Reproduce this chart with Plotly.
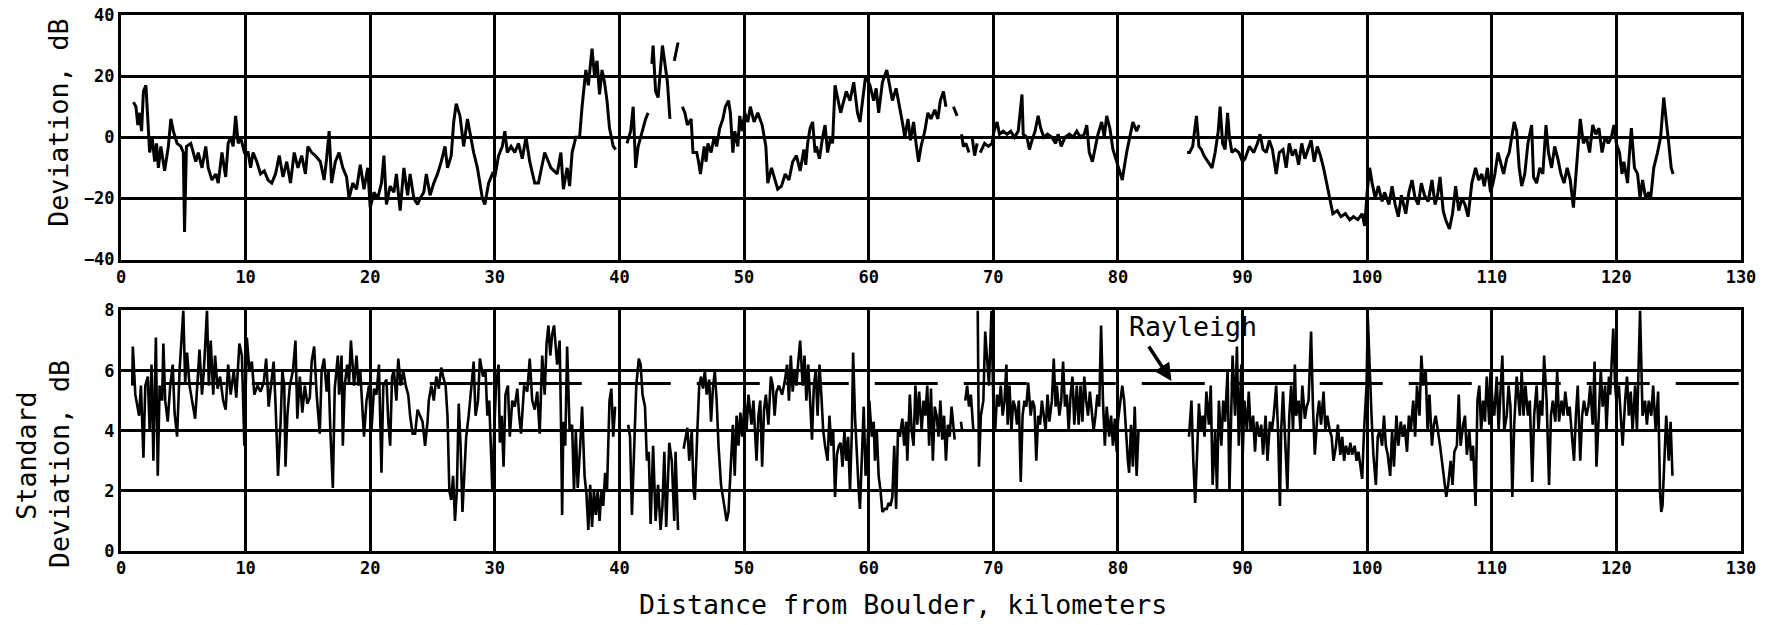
import plotly.graph_objects as go

# ---------------- data ----------------
dist_top = [1.0,1.2,1.35,1.5,1.65,1.8,2.0,2.1,2.3,2.5,2.7,2.85,3.0,3.2,3.5,3.8,4.0,4.2,4.5,4.8,5.0,5.1,5.25,5.6,6.0,6.2,6.5,6.8,7.0,7.3,7.6,7.8,8.1,8.4,8.6,8.8,9.0,9.2,9.4,9.6,9.9,
10.2,10.4,10.6,10.9,11.2,11.5,11.8,12.1,12.4,12.7,13.0,13.3,13.6,13.9,14.2,14.5,14.8,15.0,15.3,15.6,16.0,16.3,16.5,16.7,16.9,17.2,17.5,17.8,18.1,18.3,18.6,18.9,19.2,19.5,19.8,
20.0,20.3,20.6,20.9,21.1,21.3,21.6,21.9,22.1,22.4,22.7,23.0,23.2,23.5,23.8,24.0,24.3,24.5,24.8,25.1,25.4,25.7,26.0,26.2,26.5,26.7,26.9,27.2,27.5,27.8,28.0,28.3,28.6,29.0,29.2,29.5,29.8,
30.0,30.3,30.6,30.8,31.0,31.3,31.6,31.9,32.2,32.5,32.8,33.2,33.5,34.0,34.5,35.0,35.3,35.5,35.8,36.0,36.2,36.5,36.8,37.0,37.3,37.5,37.8,38.0,38.2,38.4,38.6,38.8,39.0,39.2,39.5,39.7,
40.1,40.6,40.9,41.1,41.3,41.5,41.8,42.1,42.3,42.45,42.6,42.7,42.9,43.1,43.45,43.65,43.85,44.05,44.2,44.4,44.7,44.9,45.05,45.25,45.45,45.75,45.9,46.2,46.35,46.5,46.8,46.95,47.1,47.35,47.6,47.8,
48.05,48.3,48.5,48.75,48.9,49.1,49.25,49.5,49.65,49.85,50.05,50.3,50.5,50.8,51.1,51.45,51.75,51.9,52.2,52.4,52.7,53.0,53.3,53.6,53.9,54.2,54.5,54.8,54.95,55.1,55.3,55.5,55.7,55.8,56.05,56.3,56.5,
56.7,56.95,57.1,57.3,57.75,58.2,58.5,58.8,59.1,59.3,59.75,60.1,60.4,60.6,60.8,61.1,61.45,61.7,61.9,62.2,62.4,62.7,62.9,63.15,63.35,63.6,63.8,64.0,64.2,64.5,64.75,65.0,65.3,65.55,65.75,66.0,66.2,
66.5,66.8,67.1,67.3,67.45,67.6,67.8,68.05,68.2,68.3,68.5,68.7,68.8,68.95,69.3,69.6,69.9,70.05,70.3,70.5,70.8,71.1,71.4,71.7,72.0,72.3,72.4,72.7,72.9,73.1,73.35,73.6,73.8,74.05,74.35,74.7,
75.0,75.2,75.45,75.75,76.1,76.4,76.7,77.0,77.3,77.5,77.7,77.95,78.2,78.4,78.7,78.9,79.1,79.35,79.6,79.9,80.2,80.35,80.5,80.7,81.05,81.2,81.5,81.7,83.5,
85.55,85.75,86.0,86.2,86.3,86.5,86.7,86.9,87.2,87.55,87.8,88.05,88.2,88.4,88.6,88.8,88.95,89.15,89.4,89.7,90.0,90.2,90.55,90.9,91.2,91.4,91.65,91.9,92.15,92.4,92.7,92.95,93.25,93.5,93.75,
94.0,94.25,94.5,94.75,95.0,95.25,95.5,95.75,96.0,96.25,96.5,96.75,96.9,97.1,97.25,97.6,97.9,98.25,98.6,98.9,99.25,99.6,99.8,100.0,100.2,100.4,100.65,100.9,101.2,101.4,101.75,102.0,102.25,
102.5,102.75,103.1,103.35,103.6,103.85,104.1,104.35,104.6,104.9,105.2,105.45,105.65,105.85,106.1,106.3,106.6,106.85,107.1,107.35,107.6,107.85,108.1,108.4,108.7,108.95,109.2,109.4,109.65,
109.9,110.1,110.25,110.5,110.7,110.95,111.2,111.4,111.8,112.0,112.2,112.4,112.65,112.9,113.2,113.35,113.6,113.85,114.1,114.35,114.55,114.8,115.05,115.3,115.55,115.8,116.05,116.3,116.55,
116.8,116.95,117.1,117.35,117.6,117.85,118.1,118.35,118.6,118.85,119.1,119.35,119.6,119.8,120.0,120.25,120.45,120.6,120.9,121.0,121.2,121.45,121.7,121.9,122.1,122.35,122.6,122.75,123.0,
123.3,123.55,123.8,123.95,124.2,124.4,124.55]

dev_top = [11.5,10,4,8,2,15,17,10,-5,0,-8,-2,-10,-3,-11,-3,6,2,-2,-3,-5,-31,-3,-2,-8,-5,-10,-3,-10,-14,-12,-15,-5,-13,-2,0,-3,7,-2,0,-5,
-5,-10,-5,-8,-12,-11,-14,-15,-12,-6,-13,-8,-15,-5,-10,-6,-12,-3,-5,-6,-8,-14,-7,2,-15,-8,-5,-10,-13,-20,-15,-17,-9,-17,-10,
-23,-18,-20,-15,-6,-22,-16,-18,-12,-24,-10,-19,-12,-20,-22,-20,-18,-12,-19,-15,-12,-8,-3,-10,-6,5,11,7,-3,6,1,-5,-10,-20,-22,-15,-12,
-13,-6,-3,2,-5,-3,-5,-2,-7,0,-8,-15,-15,-5,-10,-12,-5,-17,-10,-16,-5,0,0,10,22,17,29,20,25,14,22,18,12,3,-3,-4,
None,-2,2,10,-10,-3,2,6,8,None,24,30,15,13,30,24,18,6,None,25,31,None,10,8,4,6,-5,-5,-8,-12,-3,-8,-2,-5,0,-3,
3,6,10,12,8,-5,2,-3,7,2,8,5,10,5,8,4,-3,-15,-10,-13,-17,-16,-12,-14,-8,-6,-11,-4,-9,-2,3,5,-5,-3,-7,0,4,
-5,0,-2,17,8,15,12,18,8,5,20,17,12,16,8,18,22,17,12,16,12,5,0,6,-1,5,-2,-8,-3,2,8,6,9,6,12,15,10,
None,10,7,None,1,-3,-2,-5,None,0,-6,-2,None,-5,-2,-3,-2,2,5,1,2,1,2,0,2,14,1,0,-4,-1,2,7,3,0,1,0,
-2,1,-3,0,1,0,2,0,1,4,-5,-8,-3,1,5,0,7,3,-4,-8,-12,-14,-10,-5,2,5,2,4,None,
-5,-5,-3,4,7,-3,-4,-6,-8,-10,-5,2,10,-2,-4,8,0,-5,-4,-5,-8,-7,-3,-5,-2,1,-4,-5,-1,-4,-12,-5,-4,-10,-2,
-6,-4,-9,-2,-7,-4,-1,-8,-3,-6,-10,-15,-18,-22,-25,-24,-26,-25,-27,-26,-27,-25,-29,-18,-10,-15,-20,-16,-21,-18,-22,-16,-22,
-26,-19,-25,-18,-14,-20,-22,-15,-19,-21,-14,-22,-19,-13,-24,-27,-30,-25,-16,-24,-20,-22,-26,-15,-10,-14,-12,-16,-10,
-18,-15,-12,-5,-8,-12,-7,-5,5,2,-10,-16,-12,-2,4,-13,-15,-10,-12,4,-5,-10,-3,-7,-12,-15,-10,-14,-23,
-10,-2,6,-2,0,-5,4,1,3,-5,0,-2,0,4,-2,-5,-12,-8,-15,-8,3,-10,-12,-20,-14,-20,-18,-20,-10,
-5,0,13,8,-2,-10,-12]

dist_sd = [0.9,0.95,1.15,1.45,1.6,1.8,1.95,2.15,2.3,2.45,2.6,2.8,2.95,3.1,3.3,3.4,3.55,3.75,3.95,4.15,4.3,4.5,4.7,4.85,5.0,5.15,5.3,5.5,5.75,5.95,6.15,6.3,6.5,6.65,6.9,7.05,7.2,7.4,7.55,7.75,7.95,
8.2,8.4,8.6,8.8,9.05,9.25,9.5,9.7,9.9,10.1,10.3,10.5,10.7,10.95,11.2,11.45,11.65,11.85,12.05,12.25,12.4,12.6,12.8,12.95,13.1,13.2,13.35,13.55,13.8,14.0,14.15,14.35,14.55,14.75,14.95,
15.15,15.3,15.5,15.7,15.95,16.1,16.3,16.5,16.65,16.8,17.0,17.15,17.4,17.5,17.7,17.8,17.95,18.15,18.3,18.45,18.7,18.9,19.05,19.2,19.35,19.5,19.7,19.9,20.1,20.3,20.5,20.7,20.8,20.9,
21.05,21.3,21.45,21.6,21.75,21.9,22.1,22.25,22.45,22.65,22.85,23.05,23.2,23.4,23.6,23.8,24.0,24.2,24.4,24.6,24.7,24.9,25.1,25.3,25.5,25.7,25.85,26.05,26.2,26.35,26.5,26.65,26.8,26.95,
27.1,27.25,27.4,27.55,27.7,27.9,28.15,28.3,28.45,28.65,28.8,29.05,29.25,29.4,29.55,29.8,29.95,30.1,30.3,30.4,30.55,30.7,30.85,31.05,31.2,31.4,31.6,31.8,31.95,32.1,32.35,32.6,32.8,
33.0,33.2,33.4,33.6,33.8,34.0,34.15,34.3,34.45,34.6,34.75,35.0,35.2,35.3,35.4,35.5,35.65,35.8,36.0,36.2,36.35,36.5,36.65,36.85,37.0,37.2,37.35,37.5,37.65,37.8,37.95,38.1,38.25,38.4,
38.55,38.7,38.85,39.0,39.2,39.35,39.5,39.65,40.2,40.7,40.85,41.0,41.15,41.35,41.55,41.7,41.85,42.05,42.2,42.35,42.5,42.7,42.9,43.1,43.3,43.45,43.6,43.75,44.0,44.2,44.4,44.5,44.7,44.9,
45.15,45.3,45.45,45.6,45.8,45.95,46.05,46.25,46.4,46.55,46.7,46.85,47.0,47.2,47.35,47.5,47.65,47.8,47.95,48.15,48.3,48.45,48.6,48.75,48.9,49.1,49.25,49.4,49.55,49.7,49.85,
50.05,50.2,50.35,50.6,50.75,51.0,51.15,51.3,51.45,51.6,51.75,51.95,52.15,52.3,52.45,52.6,52.8,53.05,53.25,53.45,53.6,53.75,53.9,54.05,54.2,54.35,54.5,54.7,54.85,55.0,55.15,55.3,
55.45,55.6,55.75,55.9,56.05,56.2,56.35,56.5,56.7,56.85,57.0,57.15,57.3,57.45,57.6,57.75,57.9,58.05,58.2,58.35,58.5,58.65,58.75,58.9,59.05,59.2,59.3,59.45,59.6,59.75,59.9,
60.05,60.25,60.4,60.5,60.65,60.8,60.95,61.1,61.3,61.45,61.6,61.75,61.9,62.05,62.2,62.35,62.5,62.7,62.85,63.0,63.1,63.3,63.45,63.6,63.75,63.9,64.05,64.25,64.4,64.55,64.7,64.85,
65.0,65.15,65.3,65.45,65.6,65.75,65.9,66.05,66.2,66.35,66.5,66.65,66.9,67.1,67.4,67.5,67.6,67.75,67.9,68.05,68.2,68.4,68.6,68.75,68.85,69.0,69.2,69.35,69.5,69.65,69.85,
70.0,70.15,70.3,70.45,70.6,70.75,70.9,71.05,71.15,71.3,71.45,71.6,71.75,71.9,72.05,72.2,72.35,72.5,72.65,72.8,73.0,73.15,73.3,73.45,73.6,73.75,73.9,74.05,74.2,74.35,74.5,74.7,74.85,
75.0,75.1,75.3,75.45,75.6,75.75,75.9,76.05,76.2,76.35,76.5,76.7,76.85,77.0,77.15,77.3,77.45,77.6,77.75,77.9,78.05,78.2,78.35,78.5,78.65,78.8,78.95,79.1,79.3,79.45,79.6,79.75,79.9,
80.0,80.15,80.35,80.5,80.65,80.8,80.9,81.05,81.2,81.35,81.5,81.65,83.5,
85.7,85.9,86.05,86.2,86.35,86.5,86.65,86.8,86.95,87.1,87.3,87.45,87.6,87.8,87.95,88.1,88.3,88.45,88.6,88.8,88.95,89.1,89.2,89.4,89.55,89.7,89.9,
90.0,90.15,90.35,90.5,90.65,90.85,91.0,91.15,91.35,91.5,91.65,91.85,92.0,92.2,92.35,92.5,92.7,92.85,93.0,93.1,93.25,93.45,93.6,93.75,93.9,94.05,94.2,94.3,94.5,94.65,94.8,
95.0,95.15,95.3,95.5,95.65,95.8,96.0,96.15,96.3,96.5,96.65,96.8,97.0,97.15,97.3,97.5,97.65,97.85,98.0,98.15,98.3,98.5,98.65,98.8,99.0,99.15,99.3,99.5,99.6,99.75,99.95,
100.05,100.2,100.35,100.5,100.7,100.85,101.0,101.2,101.35,101.5,101.65,101.85,102.0,102.15,102.35,102.5,102.7,102.85,103.0,103.2,103.35,103.5,103.7,103.85,104.0,104.2,104.35,104.5,
104.7,104.85,105.0,105.2,105.35,105.5,105.7,105.85,106.0,106.2,106.35,106.5,106.7,106.85,107.0,107.2,107.35,107.5,107.7,107.85,108.0,108.2,108.35,108.5,108.7,108.85,109.0,109.15,
109.3,109.45,109.6,109.8,109.9,110.05,110.2,110.4,110.55,110.7,110.85,111.0,111.2,111.35,111.5,111.65,111.8,112.0,112.25,112.4,112.55,112.7,112.9,113.05,113.25,113.4,113.6,113.75,
113.9,114.05,114.2,114.4,114.6,114.75,114.9,115.1,115.25,115.4,115.6,115.75,115.9,116.1,116.25,116.4,116.6,116.75,116.9,117.1,117.25,117.4,117.6,117.75,117.9,118.1,118.25,118.4,
118.6,118.75,118.9,119.1,119.2,119.4,119.5,119.75,119.9,120.0,120.2,120.35,120.5,120.7,120.85,121.0,121.15,121.3,121.5,121.65,121.8,121.9,122.1,122.3,122.45,122.6,122.8,122.95,
123.15,123.35,123.5,123.6,123.7,123.85,124.0,124.2,124.35,124.5]

sd = [5.5,6.8,5.2,4.5,5.5,3.1,5.5,5.8,4.0,6.2,3.0,7.1,2.5,5.5,5.0,6.9,5.0,4.3,5.5,6.2,4.6,3.8,6.0,6.9,8.0,5.6,6.6,5.5,4.8,4.4,5.7,6.7,5.2,6.0,8.0,5.5,7.0,5.2,6.5,5.4,5.8,
5.0,4.7,6.2,5.2,6.0,5.1,6.9,6.5,3.5,7.1,6.0,6.3,5.2,5.5,5.3,5.6,6.4,4.8,5.5,6.3,4.9,2.5,4.2,6.0,5.5,2.8,4.5,5.5,6.0,7.0,4.4,5.8,4.6,5.5,4.9,
5.1,6.3,6.8,5.2,3.9,6.0,6.4,5.3,6.0,4.0,2.1,5.4,6.5,5.2,6.5,3.5,5.5,6.2,5.6,7.0,5.5,6.5,5.5,6.0,5.0,3.8,5.0,5.5,4.0,5.4,5.2,6.2,4.4,2.6,
5.5,5.7,4.3,3.5,5.8,6.0,5.0,6.4,5.5,6.0,5.5,5.2,4.5,3.9,3.9,4.7,4.5,4.3,3.5,4.3,5.0,5.5,5.0,5.8,5.4,6.1,5.8,5.5,4.5,2.0,1.7,2.5,1.0,2.0,
4.9,3.5,1.3,2.5,3.8,4.5,5.5,6.3,4.5,5.0,6.4,5.8,6.0,4.5,5.0,2.0,4.0,5.5,6.2,3.6,4.5,2.8,5.2,5.5,3.8,5.0,4.8,5.4,4.5,3.9,5.5,5.3,6.4,
5.0,4.7,5.3,3.9,6.5,5.2,6.9,7.5,6.5,7.2,7.5,6.2,7.0,4.5,1.2,4.3,3.5,6.8,4.0,4.2,2.0,4.0,2.1,3.5,4.8,2.5,1.9,0.7,2.2,0.8,2.0,1.2,2.0,1.0,
2.0,1.5,2.6,2.0,5.0,5.4,3.8,4.8,None,4.2,3.8,1.2,3.0,5.5,6.4,6.2,5.2,4.8,3.0,3.3,0.9,3.5,1.0,2.2,0.7,1.5,3.3,0.8,3.6,3.0,1.0,3.3,0.7,None,
3.4,3.8,4.1,3.0,4.0,2.0,1.7,4.0,5.5,5.8,5.4,6.0,5.2,5.7,4.3,5.4,6.0,5.0,3.5,2.2,1.8,1.3,1.0,1.3,2.5,4.2,2.5,4.5,3.5,4.6,3.8,
5.0,4.0,5.2,4.2,5.0,3.0,4.5,5.0,2.8,4.7,5.2,4.2,5.8,5.5,4.5,5.3,5.5,5.2,5.6,6.2,5.0,6.5,5.3,6.0,5.5,6.3,7.0,5.5,6.5,5.0,6.2,5.0,
3.7,5.5,6.0,4.5,6.2,5.2,4.0,3.5,3.0,4.5,3.5,4.0,1.8,3.2,3.5,3.6,2.8,4.0,3.0,3.8,2.0,4.0,6.6,4.5,3.0,2.0,1.4,3.0,4.8,2.5,3.5,
5.0,3.8,4.3,3.0,4.0,2.5,2.0,1.3,1.4,1.4,1.6,1.5,1.8,3.5,1.4,4.0,3.8,4.4,3.5,4.3,3.0,5.2,4.0,3.5,5.5,4.2,5.3,4.0,5.0,4.5,5.5,3.5,
5.4,3.0,4.8,4.5,3.8,5.0,3.7,4.5,3.0,4.2,3.8,4.8,3.7,None,4.3,4.0,None,5.0,5.5,4.8,5.2,4.0,None,8.0,2.8,4.5,5.0,7.3,6.5,5.5,8.0,
5.0,4.0,5.2,4.8,5.5,4.5,5.0,6.2,4.2,5.5,4.0,5.0,4.8,4.2,5.0,2.3,4.5,5.0,4.8,5.6,4.5,5.0,4.8,3.0,4.5,4.2,5.0,4.5,4.0,5.2,4.3,5.0,6.4,
4.8,5.5,4.5,5.0,6.3,4.8,5.2,4.0,5.2,5.8,4.2,5.5,4.2,5.5,4.3,5.8,5.0,4.5,5.3,4.5,4.0,4.5,5.2,4.8,7.5,5.0,3.5,4.8,3.8,4.5,3.5,4.4,3.3,
4.3,4.8,5.5,5.0,3.8,3.0,2.6,4.2,2.8,4.8,2.5,4.0,None,
3.8,5.0,3.0,1.6,3.2,4.9,4.0,4.5,3.8,5.3,4.2,5.5,2.2,4.0,2.0,5.0,3.5,5.0,4.3,6.0,2.0,5.5,6.5,4.5,6.8,3.5,6.2,
3.0,5.0,4.0,5.3,4.0,4.5,3.3,4.3,3.8,4.2,3.2,4.5,3.0,4.3,4.0,4.5,5.5,4.0,1.5,4.0,5.3,3.5,2.0,4.5,5.5,4.0,6.2,4.5,5.0,4.0,5.5,
4.4,4.8,5.0,7.3,4.8,3.2,4.5,5.0,4.2,5.3,4.0,4.5,4.0,3.8,3.0,3.5,4.2,3.2,3.8,3.0,3.5,3.2,3.6,3.2,3.5,3.0,3.3,2.8,2.4,4.0,5.5,
7.8,6.0,4.5,3.2,2.2,3.8,4.0,3.5,4.5,3.5,3.2,2.5,4.0,2.8,4.5,3.5,4.3,3.8,4.2,3.3,4.5,4.0,5.0,3.8,5.5,4.5,6.5,5.5,
6.0,4.0,5.2,3.5,4.2,4.5,4.0,3.5,3.0,2.2,1.8,2.2,3.0,2.2,3.3,3.5,5.2,3.5,4.2,4.5,3.2,4.0,3.0,3.5,1.5,5.0,5.5,4.0,
5.0,4.3,5.8,4.2,6.0,5.0,4.5,5.8,4.0,5.3,6.5,4.0,4.5,5.5,4.8,1.8,4.2,5.8,4.5,6.0,4.5,5.5,4.5,5.0,2.3,4.5,5.5,4.0,
5.0,4.5,6.5,5.0,2.2,4.5,5.0,4.3,6.0,4.3,5.0,4.5,5.3,4.5,4.8,4.0,3.0,4.5,5.5,3.0,4.5,5.0,4.5,4.8,5.5,4.2,6.3,2.8,
5.0,6.0,4.8,5.5,4.0,5.8,5.2,7.4,5.5,5.0,5.5,4.3,3.5,5.0,5.8,4.5,5.3,4.0,5.5,4.0,6.0,8.0,4.5,5.0,4.2,5.0,4.5,5.5,
4.0,5.3,2.0,1.3,1.5,3.0,4.5,3.0,4.3,2.5]

rayleigh_level = 5.57
rayleigh_start = 3.35

x_ticks = list(range(0, 131, 10))
top_ticks = [-40, -20, 0, 20, 40]
sd_ticks = [0, 2, 4, 6, 8]

# ---------------- figure ----------------
MONO = "DejaVu Sans Mono"
fig = go.Figure()

fig.add_trace(go.Scatter(x=dist_top, y=dev_top, mode="lines",
                         line=dict(color="black", width=3),
                         xaxis="x", yaxis="y", connectgaps=False))
fig.add_trace(go.Scatter(x=[rayleigh_start, 130], y=[rayleigh_level, rayleigh_level], mode="lines",
                         line=dict(color="black", width=2.8, dash="63px,26px"),
                         xaxis="x2", yaxis="y2"))
fig.add_trace(go.Scatter(x=dist_sd, y=sd, mode="lines",
                         line=dict(color="black", width=2.6),
                         xaxis="x2", yaxis="y2", connectgaps=False))

tickfont = dict(family=MONO, size=17, color="black", weight="bold")
axis_common = dict(showgrid=True, gridcolor="black", gridwidth=2.5,
                   showline=True, mirror=True, linecolor="black", linewidth=3,
                   zeroline=False, ticks="", tickfont=tickfont, fixedrange=True,
                   automargin=False, ticklabeloverflow="allow")

fig.update_layout(
    template="none",
    width=1774, height=625,
    margin=dict(l=121, r=33, t=14.5, b=74, autoexpand=False),
    paper_bgcolor="white", plot_bgcolor="white",
    showlegend=False,
    xaxis=dict(domain=[0, 1], anchor="y", range=[0, 130], tickvals=x_ticks, **axis_common),
    yaxis=dict(domain=[0.5438, 1], anchor="x", range=[-40, 40], tickvals=top_ticks, **axis_common),
    xaxis2=dict(domain=[0, 1], anchor="y2", range=[0, 130], tickvals=x_ticks, **axis_common),
    yaxis2=dict(domain=[0, 0.4488], anchor="x2", range=[0, 8], tickvals=sd_ticks, **axis_common),
)

title_font = dict(family=MONO, size=26.6, color="black")
annotations = [
    dict(text="Distance from Boulder, kilometers", xref="paper", yref="paper",
         x=0.483, y=-0.1006, xanchor="center", yanchor="middle", showarrow=False, font=title_font),
    dict(text="Deviation, dB", xref="paper", yref="paper", x=-0.0383, y=0.799,
         textangle=-90, xanchor="center", yanchor="middle", showarrow=False, font=title_font),
    dict(text="Standard", xref="paper", yref="paper", x=-0.058, y=0.178,
         textangle=-90, xanchor="center", yanchor="middle", showarrow=False, font=title_font),
    dict(text="Deviation, dB", xref="paper", yref="paper", x=-0.0383, y=0.162,
         textangle=-90, xanchor="center", yanchor="middle", showarrow=False, font=title_font),
    dict(text="Rayleigh", xref="x2", yref="y2", x=86.05, y=7.45,
         xanchor="center", yanchor="middle", showarrow=False, font=title_font),
    dict(text="", xref="x2", yref="y2", x=84.3, y=5.65, ax=82.4, ay=6.85,
         axref="x2", ayref="y2", showarrow=True, arrowhead=2, arrowsize=1,
         arrowwidth=3.5, arrowcolor="black", standoff=0),
]
fig.update_layout(annotations=annotations)

# remove the page's default 8px body margin so the figure fills the window exactly
fig.write_html("out.html", config={"displayModeBar": False},
               post_script="document.body.style.margin='0';")
